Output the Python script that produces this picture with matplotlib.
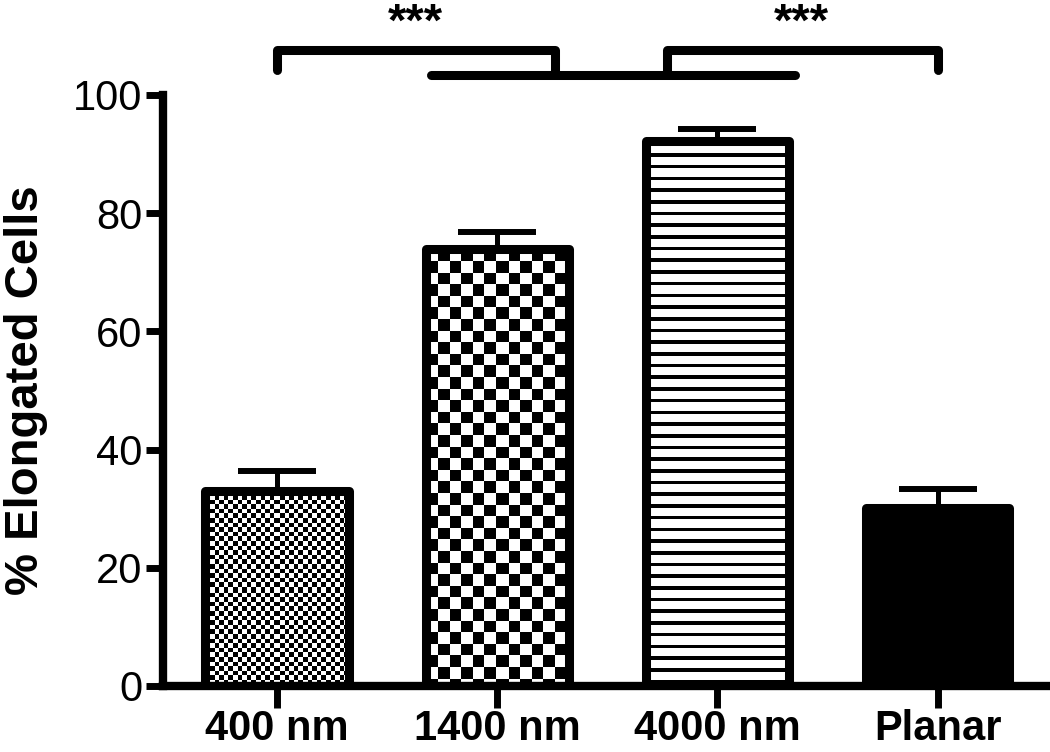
import numpy as np
import matplotlib
matplotlib.use('Agg')
import matplotlib.pyplot as plt

labels = ['400 nm', '1400 nm', '4000 nm', 'Planar']
means = [33.0, 73.9, 92.2, 30.1]
sems = [3.4, 2.9, 2.0, 3.2]
fills = ['fine', 'coarse', 'stripes', 'solid']

# significance brackets (x in bar index units, y in % units)
left_bracket = ([0, 0, 1.26, 1.26], [104.2, 107.6, 107.6, 103.4])
group_line = ([0.70, 2.35], [103.4, 103.4])
right_bracket = ([1.77, 1.77, 3, 3], [103.4, 107.6, 107.6, 104.2])
stars = [(0.63, '***'), (2.38, '***')]

plt.rcParams['font.family'] = ['Liberation Sans', 'DejaVu Sans']

fig = plt.figure(figsize=(10.5, 7.52), dpi=100)
ax = fig.add_axes([0.1552, 0.0878, 0.8448, 0.7859])
ax.set_xlim(-0.518, 3.51)
ax.set_ylim(0, 100)

x = np.arange(len(labels))
width = 0.65
lw = 6.5

bars = ax.bar(x, means, width, color=['white', 'white', 'white', 'black'],
              edgecolor='none', zorder=2)


def pattern(kind, w, h):
	yy, xx = np.mgrid[0:h, 0:w]
	if kind == 'fine':
		s = 4.6
		return ((xx // s + yy // s) % 2).astype(float)
	if kind == 'coarse':
		s = 11.6
		return ((xx // s + yy // s) % 2).astype(float)
	if kind == 'stripes':
		return ((yy % 11.7) < 3.6).astype(float)
	return np.ones((h, w))


for bar, kind in zip(bars, fills):
	if kind == 'solid':
		continue
	x0, x1 = bar.get_x(), bar.get_x() + bar.get_width()
	y1 = bar.get_height()
	p0 = ax.transData.transform((x0, 0))
	p1 = ax.transData.transform((x1, y1))
	w = int(round(p1[0] - p0[0]))
	h = int(round(p1[1] - p0[1]))
	img = pattern(kind, w, h)
	ax.imshow(img, extent=(x0, x1, 0, y1), aspect='auto', cmap='gray_r',
	          vmin=0, vmax=1, interpolation='nearest', origin='upper',
	          clip_path=bar, zorder=2.2)

ax.bar(x, means, width, fill=False, edgecolor='black', linewidth=lw,
       joinstyle='round', zorder=3)

ax.errorbar(x, means, yerr=[np.zeros(len(means)), sems], fmt='none',
            ecolor='black', elinewidth=3.6, capsize=28, capthick=4.3, zorder=1.5)

ax.set_xlim(-0.518, 3.51)
ax.set_ylim(0, 100)

for xs, ys in [left_bracket, group_line, right_bracket]:
	ax.plot(xs, ys, color='black', lw=6.5, solid_capstyle='round',
	        solid_joinstyle='round', clip_on=False, zorder=4)
for sx, s in stars:
	ax.text(sx, 110.0, s, ha='center', va='baseline', fontsize=34,
	        fontweight='bold', clip_on=False)

for side in ['top', 'right']:
	ax.spines[side].set_visible(False)
for side in ['left', 'bottom']:
	ax.spines[side].set_linewidth(6)
	ax.spines[side].set_capstyle('projecting')

ax.set_yticks([0, 20, 40, 60, 80, 100])
ax.set_xticks(x)
ax.set_xticklabels(labels, fontsize=30, fontweight='bold')
ax.tick_params(axis='y', labelsize=30, length=12, width=5, pad=3)
ax.tick_params(axis='x', length=16, width=5, pad=0.5)

ax.set_ylabel('% Elongated Cells', fontsize=34, fontweight='bold')
ax.yaxis.set_label_coords(-0.13, 0.5)

fig.savefig('out.png', dpi=100)
